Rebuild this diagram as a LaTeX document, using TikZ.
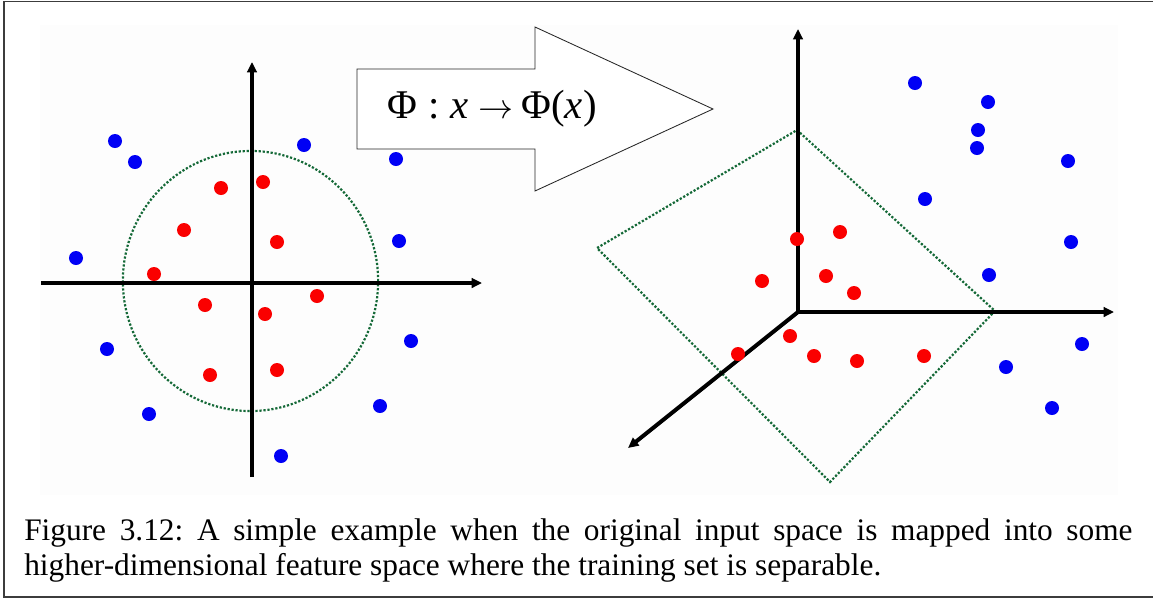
\documentclass[tikz,border=0pt]{standalone}
\usepackage{fontspec}
\setmainfont{Liberation Serif}
\usepackage{xcolor}
\usetikzlibrary{arrows.meta}
\definecolor{ptblue}{RGB}{0,0,245}
\definecolor{ptred}{RGB}{250,0,0}
\definecolor{sepgreen}{RGB}{20,105,55}
\definecolor{framegray}{RGB}{60,60,60}
\begin{document}
\frenchspacing
\begin{tikzpicture}[x=0.025cm, y=-0.025cm,
  axis/.style={line width=1mm, -{Triangle[length=2.6mm, width=2.4mm]}},
  sep/.style={draw=sepgreen, line width=0.55mm, dash pattern=on 0.55mm off 0.45mm},
  dot/.style={circle, inner sep=0pt, minimum size=3.5mm},
  bdot/.style={dot, fill=ptblue},
  rdot/.style={dot, fill=ptred},
  maparrow/.style={draw=black!85, line width=0.6pt, fill=white}]
  \useasboundingbox (0,0) rectangle (1153,601);
  \fill[black!0.8] (40,25) rectangle (1118,495);
  \draw[framegray, line width=1pt] (1170,1.5) -- (4,1.5) -- (4,597) -- (1170,597);
  % input space
  \coordinate (o1) at (252,283);
  \coordinate (l1w) at (41,283);
  \coordinate (l1e) at (482,283);
  \coordinate (l1s) at (252,477);
  \coordinate (l1n) at (252,62);
  \draw[sep] (250.5,281) ellipse [x radius=3.19cm, y radius=3.25cm];
  \draw[axis] (l1w) -- (l1e);
  \draw[axis] (l1s) -- (l1n);
  \foreach \px/\py [count=\i] in {115/141, 135/162, 304/145, 396/159, 76/258, 399/241,
      107/349, 411/341, 149/414, 380/406, 281/456}
    \node[bdot] (lb\i) at (\px,\py) {};
  \foreach \px/\py [count=\i] in {221/188, 263/182, 184/230, 277/242, 154/274, 317/296,
      205/305, 265/314, 210/375, 277/370}
    \node[rdot] (lr\i) at (\px,\py) {};
  % feature space
  \coordinate (o2) at (798,312);
  \coordinate (r2n) at (798,29);
  \coordinate (r2e) at (1114,312);
  \coordinate (r2d) at (628,448);
  \draw[sep] (797,130) -- (995,311) -- (830,482) -- (597,248) -- cycle;
  \draw[axis] (o2) -- (r2n);
  \draw[axis] (o2) -- (r2e);
  \draw[axis] (o2) -- (r2d);
  \foreach \px/\py [count=\i] in {915/83, 988/102, 978/130, 977/148, 1068/161, 925/199,
      1071/242, 989/275, 1082/344, 1006/367, 1052/408}
    \node[bdot] (rb\i) at (\px,\py) {};
  \foreach \px/\py [count=\i] in {797/239, 840/232, 762/281, 826/276, 854/293, 790/336,
      738/354, 814/356, 857/361, 924/356}
    \node[rdot] (rr\i) at (\px,\py) {};
  % the mapping
  \draw[maparrow] (357,69) -- (535,69) -- (535,27) -- (713,109) -- (535,191)
    -- (535,149) -- (357,149) -- cycle;
  \node[font=\fontsize{29}{33}\selectfont, inner sep=0pt] (map) at (492,109)
    {Φ\hspace{0.28em}:\hspace{0.25em}\textit{x}\hspace{0.25em}$\rightarrow$\hspace{0.2em}Φ(\textit{x})};
  \node[anchor=base west, inner sep=0pt, text width=27.7cm, align=justify,
    font=\fontsize{22.3}{24.9}\selectfont] (cap) at (24,540)
    {Figure 3.12: A simple example when the original input space is mapped into some\linebreak
     higher-dimensional feature space where the training set is separable.};
\end{tikzpicture}
\end{document}
